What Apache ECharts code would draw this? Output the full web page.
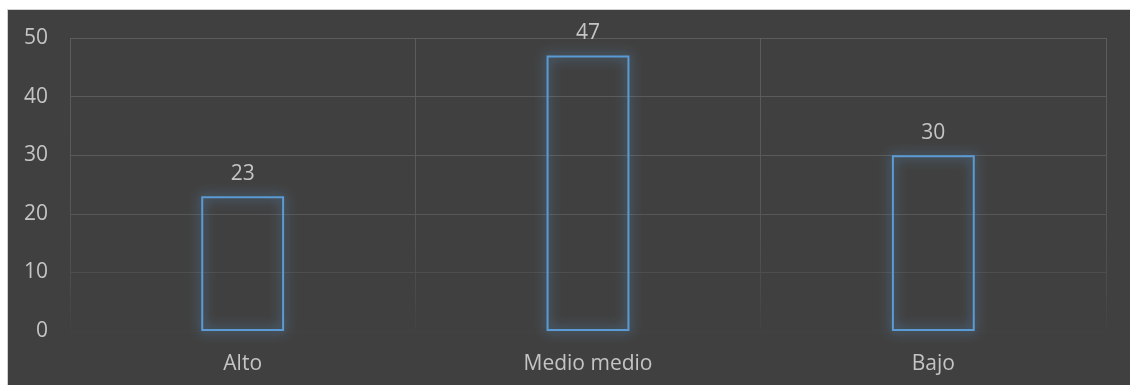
<!DOCTYPE html>
<html><head><meta charset="utf-8">
<script src="https://cdn.jsdelivr.net/npm/echarts@6/dist/echarts.min.js"></script>
<style>
html,body{margin:0;padding:0;background:#fff;overflow:hidden;}
#frame{position:absolute;left:7px;top:9px;width:1130px;height:385px;background:#404040;border:1px solid #d0d0d0;box-sizing:border-box;}
#c{position:absolute;left:0;top:0;width:1130px;height:385px;}
</style></head>
<body>
<div id="frame"></div>
<div id="c"></div>
<script>
const categories = ['Alto', 'Medio medio', 'Bajo'];
const values = [23, 47, 30];
const yTicks = [0, 10, 20, 30, 40, 50];

const gridColor = {
  type: 'linear', x: 0, y: 38, x2: 0, y2: 331, global: true,
  colorStops: [
    {offset: 0, color: '#5c5c5c'},
    {offset: 0.55, color: '#595959'},
    {offset: 0.82, color: '#4d4d4d'},
    {offset: 1, color: '#424242'}
  ]
};
const textColor = '#c4c4c4';
const font = 'Open Sans';

const chart = echarts.init(document.getElementById('c'));
chart.setOption({
  backgroundColor: 'transparent',
  animation: false,
  grid: {left: 70, right: 24, top: 38, bottom: 54, containLabel: false},
  xAxis: {
    type: 'category', data: categories,
    axisLine: {show: false}, axisTick: {show: false},
    splitLine: {show: true, lineStyle: {color: gridColor, width: 1}},
    axisLabel: {color: textColor, fontSize: 21, fontFamily: font, margin: 23}
  },
  yAxis: {
    type: 'value', min: yTicks[0], max: yTicks[yTicks.length-1], interval: 10,
    axisLine: {show: false}, axisTick: {show: false},
    splitLine: {lineStyle: {color: gridColor, width: 1}},
    axisLabel: {color: textColor, fontSize: 21, fontFamily: font, margin: 22}
  },
  series: [{
    type: 'bar', data: values, barWidth: '24%',
    itemStyle: {color: 'rgba(0,0,0,0)', borderColor: '#5b9bd5', borderWidth: 2,
      shadowBlur: 12, shadowColor: 'rgba(91,155,213,1)'},
    label: {show: true, position: 'top', distance: 12, color: textColor, fontSize: 21, fontFamily: font}
  }]
});
</script>
</body></html>
